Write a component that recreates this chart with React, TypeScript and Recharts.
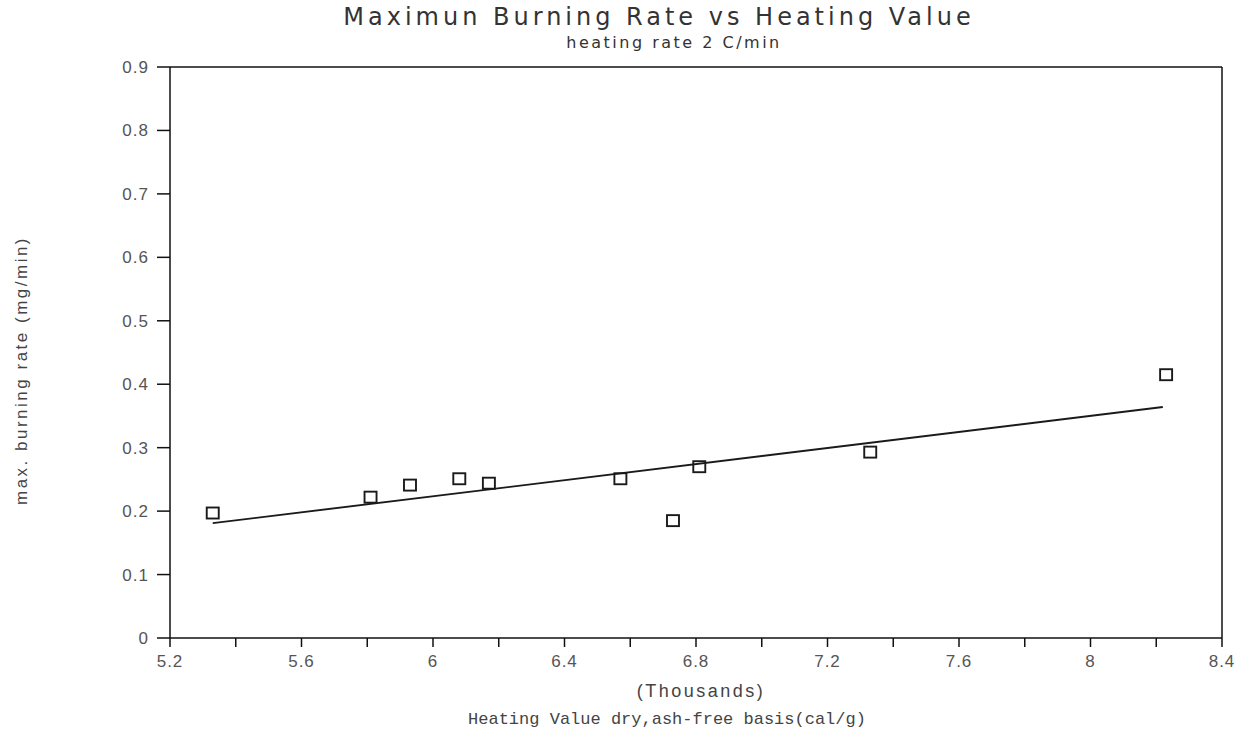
import {
  ScatterChart,
  Scatter,
  XAxis,
  YAxis,
  ReferenceLine,
} from "recharts";

// heating value (thousands cal/g) and max burning rate (mg/min)
const heatingValue = [5.33, 5.81, 5.93, 6.08, 6.17, 6.57, 6.73, 6.81, 7.33, 8.23];
const burningRate = [0.197, 0.222, 0.241, 0.251, 0.244, 0.251, 0.185, 0.27, 0.293, 0.415];

// fitted line endpoints
const trendX = [5.33, 8.22];
const trendY = [0.181, 0.364];

const xTicks = [5.2, 5.4, 5.6, 5.8, 6, 6.2, 6.4, 6.6, 6.8, 7, 7.2, 7.4, 7.6, 7.8, 8, 8.2, 8.4];
const yTicks = [0, 0.1, 0.2, 0.3, 0.4, 0.5, 0.6, 0.7, 0.8, 0.9];

const points = heatingValue.map((x, i) => ({ x, y: burningRate[i] }));
const trend = trendX.map((x, i) => ({ x, y: trendY[i] }));

const tickStyle = {
  fill: "#555",
  fontSize: 17,
  letterSpacing: 1,
  fontFamily: "Liberation Sans, Arial, sans-serif",
};

function OpenSquare(props: any) {
  const { cx, cy } = props;
  if (cx == null || cy == null) return null;
  return (
    <rect
      x={cx - 6}
      y={cy - 5.5}
      width={12}
      height={11}
      fill="none"
      stroke="#1a1a1a"
      strokeWidth={1.9}
    />
  );
}

function formatX(v: number) {
  const r = Math.round(v * 10);
  if (r % 4 !== 0) return "";
  return String(r / 10);
}

function formatY(v: number) {
  if (v === 0) return "0";
  return v.toFixed(1);
}

function XTitle(props: any) {
  const { viewBox } = props;
  const cx = viewBox.x + viewBox.width / 2;
  const top = viewBox.y;
  return (
    <g>
      <text
        x={cx + 5}
        y={top + 59}
        textAnchor="middle"
        fontFamily="Liberation Sans, Arial, sans-serif"
        fontSize={18}
        letterSpacing={2.5}
        fill="#444"
      >
        (Thousands)
      </text>
      <text
        x={cx - 29}
        y={top + 86}
        textAnchor="middle"
        fontFamily="Liberation Mono, monospace"
        fontSize={17}
        fill="#444"
      >
        Heating Value dry,ash-free basis(cal/g)
      </text>
    </g>
  );
}

export default function App() {
  return (
    <div
      style={{
        position: "absolute",
        left: 0,
        top: 0,
        width: 1250,
        height: 731,
        background: "#fff",
      }}
    >
      <div
        style={{
          position: "absolute",
          left: 0,
          width: 1318,
          top: 3,
          textAlign: "center",
          fontFamily: "DejaVu Sans, sans-serif",
          fontSize: 24,
          letterSpacing: 4,
          color: "#333",
        }}
      >
        Maximun Burning Rate vs Heating Value
      </div>
      <div
        style={{
          position: "absolute",
          left: 0,
          width: 1348,
          top: 33,
          textAlign: "center",
          fontFamily: "DejaVu Sans, sans-serif",
          fontSize: 16,
          letterSpacing: 2.5,
          color: "#333",
        }}
      >
        heating rate 2 C/min
      </div>

      <ScatterChart
        width={1250}
        height={731}
        margin={{ top: 67, right: 28, bottom: 0, left: 0 }}
        style={{ position: "absolute", left: 0, top: 0 }}
      >
        <XAxis
          type="number"
          dataKey="x"
          domain={[5.2, 8.4]}
          ticks={xTicks}
          tickFormatter={formatX}
          interval={0}
          height={93}
          stroke="#111"
          strokeWidth={1.5}
          tickSize={9}
          tickMargin={8}
          tick={tickStyle}
          allowDataOverflow
          label={{ content: XTitle }}
        />
        <YAxis
          type="number"
          dataKey="y"
          domain={[0, 0.9]}
          ticks={yTicks}
          tickFormatter={formatY}
          interval={0}
          width={170}
          stroke="#111"
          strokeWidth={1.5}
          tickSize={13}
          tickMargin={8}
          tick={tickStyle}
          label={{
            value: "max. burning rate (mg/min)",
            angle: -90,
            position: "insideLeft",
            dx: 16,
            dy: 18,
            style: {
              textAnchor: "middle",
              fill: "#444",
              fontSize: 17,
              letterSpacing: 2.5,
              fontFamily: "Liberation Sans, Arial, sans-serif",
            },
          }}
        />
        <ReferenceLine y={0.9} stroke="#111" strokeWidth={1.5} />
        <ReferenceLine x={8.4} stroke="#111" strokeWidth={1.5} />
        <Scatter
          data={trend}
          line={{ stroke: "#1a1a1a", strokeWidth: 1.9 }}
          shape={() => null}
          isAnimationActive={false}
        />
        <Scatter data={points} shape={OpenSquare} isAnimationActive={false} />
      </ScatterChart>
    </div>
  );
}
